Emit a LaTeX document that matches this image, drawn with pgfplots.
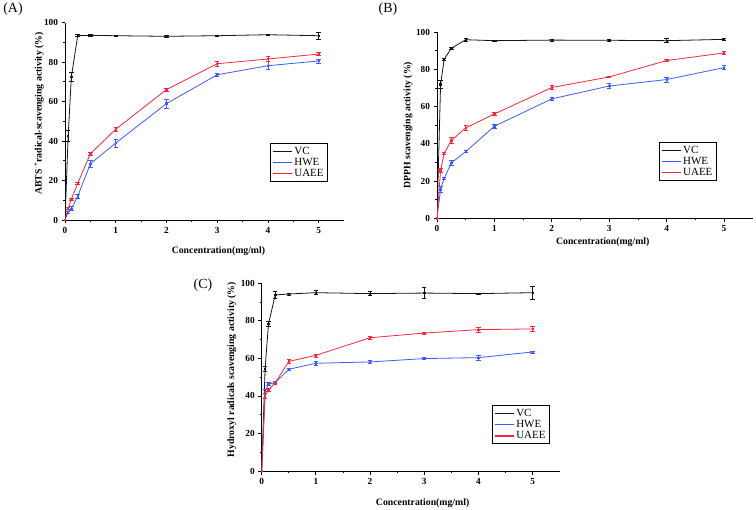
\documentclass[border=0pt]{standalone}
\usepackage{fontspec}
\setmainfont{Liberation Serif}
\usepackage{pgfplots}
\pgfplotsset{compat=1.18}

\definecolor{cvc}{RGB}{20,20,20}
\definecolor{chwe}{RGB}{60,90,255}
\definecolor{cuaee}{RGB}{245,40,60}

\pgfplotsset{
  panel/.style={
    scale only axis,
    axis lines=left,
    axis line style={-, line width=0.9pt},
    xmin=0, xmax=5.5, ymin=0, ymax=100,
    xtick={0,1,2,3,4,5}, ytick={0,20,40,60,80,100},
    minor x tick num=1, minor y tick num=1,
    tick align=outside,
    major tick length=3.5bp, minor tick length=2bp,
    every tick/.style={line width=0.8pt, black},
    /pgf/number format/assume math mode=true,
    tick label style={font=\bfseries\fontsize{9.3}{9.3}\selectfont},
    label style={font=\bfseries\fontsize{9.8}{9.8}\selectfont},
    legend style={draw=black, line width=0.8pt, font=\fontsize{11}{11}\selectfont,
      inner sep=1.5pt, row sep=-1.5pt, cells={anchor=west}, anchor=north west},
    legend image code/.code={\draw[##1, line width=1.4pt, mark=none] (0bp,0bp) -- (19bp,0bp);},
    error bars/y dir=both, error bars/y explicit,
    error bars/error bar style={line width=0.7pt},
    error bars/error mark options={rotate=90, mark size=2.2bp, line width=0.7pt},
  },
  every axis plot/.append style={line width=0.8pt, mark=square*, mark size=0.7pt},
}

\begin{document}
\begin{tikzpicture}
\path[use as bounding box] (0bp,0bp) rectangle (756bp,510bp);

% ---------------- (A) ABTS
\begin{axis}[panel, at={(65bp,290bp)}, anchor=south west, width=279bp, height=197.3bp,
  xlabel={Concentration(mg/ml)},
  ylabel={ABTS\textsuperscript{$\cdot$+}radical-scavenging activity (\%)},
  xlabel style={at={(axis description cs:0.55,-0.157)}, anchor=center},
  ylabel style={at={(axis description cs:-0.093,0.54)}, anchor=center},
  legend style={at={(axis description cs:0.735,0.39)}}]
\addplot[cvc, error bars/.cd, error bar style={cvc}] table[x=x,y=y,y error=e] {
x y e
0 0 0
0.0625 42.7 2.8
0.125 72.4 2.2
0.25 93.4 0.5
0.5 93.6 0.5
1 93.4 0.3
2 93.1 0.4
3 93.4 0.3
4 93.9 0.4
5 93.4 1.8
};
\addlegendentry{VC}
\addplot[chwe, error bars/.cd, error bar style={chwe}] table[x=x,y=y,y error=e] {
x y e
0 0 0
0.0625 4.0 0.6
0.125 5.7 1.0
0.25 12.0 1.2
0.5 28.5 1.6
1 39.0 2.0
2 59.0 2.4
3 73.6 0.6
4 78.2 2.0
5 80.6 1.0
};
\addlegendentry{HWE}
\addplot[cuaee, error bars/.cd, error bar style={cuaee}] table[x=x,y=y,y error=e] {
x y e
0 0 0
0.0625 5.7 0.5
0.125 10.6 0.5
0.25 18.5 0.5
0.5 33.6 0.6
1 46.0 1.0
2 66.1 0.8
3 79.2 1.3
4 81.6 1.3
5 84.1 0.8
};
\addlegendentry{UAEE}
\end{axis}

% ---------------- (B) DPPH
\begin{axis}[panel, at={(437bp,291.7bp)}, anchor=south west, width=315.7bp, height=186bp,
  xlabel={Concentration(mg/ml)},
  ylabel={DPPH scavenging activity (\%)},
  xlabel style={at={(axis description cs:0.525,-0.131)}, anchor=center},
  ylabel style={at={(axis description cs:-0.092,0.50)}, anchor=center},
  legend style={at={(axis description cs:0.703,0.41)}}]
\addplot[cvc, error bars/.cd, error bar style={cvc}] table[x=x,y=y,y error=e] {
x y e
0 0 0
0.0625 72.0 2.0
0.125 85.5 0.6
0.25 91.4 0.6
0.5 96.0 1.0
1 95.5 0.3
2 95.8 0.6
3 95.7 0.6
4 95.5 1.0
5 96.2 0.3
};
\addlegendentry{VC}
\addplot[chwe, error bars/.cd, error bar style={chwe}] table[x=x,y=y,y error=e] {
x y e
0 0 0
0.0625 15.6 1.5
0.125 21.5 0.6
0.25 29.8 1.5
0.5 35.8 0.6
1 49.5 1.0
2 64.2 0.8
3 71.1 1.2
4 74.6 1.3
5 81.0 1.0
};
\addlegendentry{HWE}
\addplot[cuaee, error bars/.cd, error bar style={cuaee}] table[x=x,y=y,y error=e] {
x y e
0 0 0
0.0625 25.8 1.0
0.125 34.9 0.6
0.25 41.8 1.5
0.5 48.6 1.5
1 56.1 0.6
2 70.3 1.2
3 76.0 0.4
4 84.8 0.4
5 88.9 1.0
};
\addlegendentry{UAEE}
\end{axis}

% ---------------- (C) Hydroxyl
\begin{axis}[panel, at={(261.7bp,39bp)}, anchor=south west, width=298bp, height=187.7bp,
  xlabel={Concentration(mg/ml)},
  ylabel={Hydroxyl radicals scavenging activity (\%)},
  xlabel style={at={(axis description cs:0.54,-0.17)}, anchor=center},
  ylabel style={at={(axis description cs:-0.10,0.54)}, anchor=center},
  legend style={at={(axis description cs:0.773,0.35)}}]
\addplot[cvc, error bars/.cd, error bar style={cvc}] table[x=x,y=y,y error=e] {
x y e
0 0 0
0.0625 54.5 1.5
0.125 78.3 1.5
0.25 93.8 2.0
0.5 94.3 0.5
1 95.0 1.0
2 94.5 1.0
3 94.8 2.8
4 94.5 0.4
5 95.0 3.5
};
\addlegendentry{VC}
\addplot[chwe, error bars/.cd, error bar style={chwe}] table[x=x,y=y,y error=e] {
x y e
0 0 0
0.0625 42.3 1.0
0.125 46.2 0.8
0.25 47.2 0.6
0.5 54.2 0.5
1 57.4 1.2
2 58.1 0.8
3 59.9 0.4
4 60.4 1.3
5 63.4 0.6
};
\addlegendentry{HWE}
\addplot[cuaee, error bars/.cd, error bar style={cuaee}] table[x=x,y=y,y error=e] {
x y e
0 0 0
0.0625 40.0 1.5
0.125 43.2 1.0
0.25 47.0 0.6
0.5 58.4 1.0
1 61.6 0.8
2 71.0 1.0
3 73.5 0.6
4 75.3 1.3
5 75.7 1.5
};
\addlegendentry{UAEE}
\end{axis}

\node[font=\fontsize{14}{14}\selectfont] at (13bp,501bp) {(A)};
\node[font=\fontsize{14}{14}\selectfont] at (388bp,501bp) {(B)};
\node[font=\fontsize{14}{14}\selectfont] at (203bp,225bp) {(C)};
\end{tikzpicture}
\end{document}
